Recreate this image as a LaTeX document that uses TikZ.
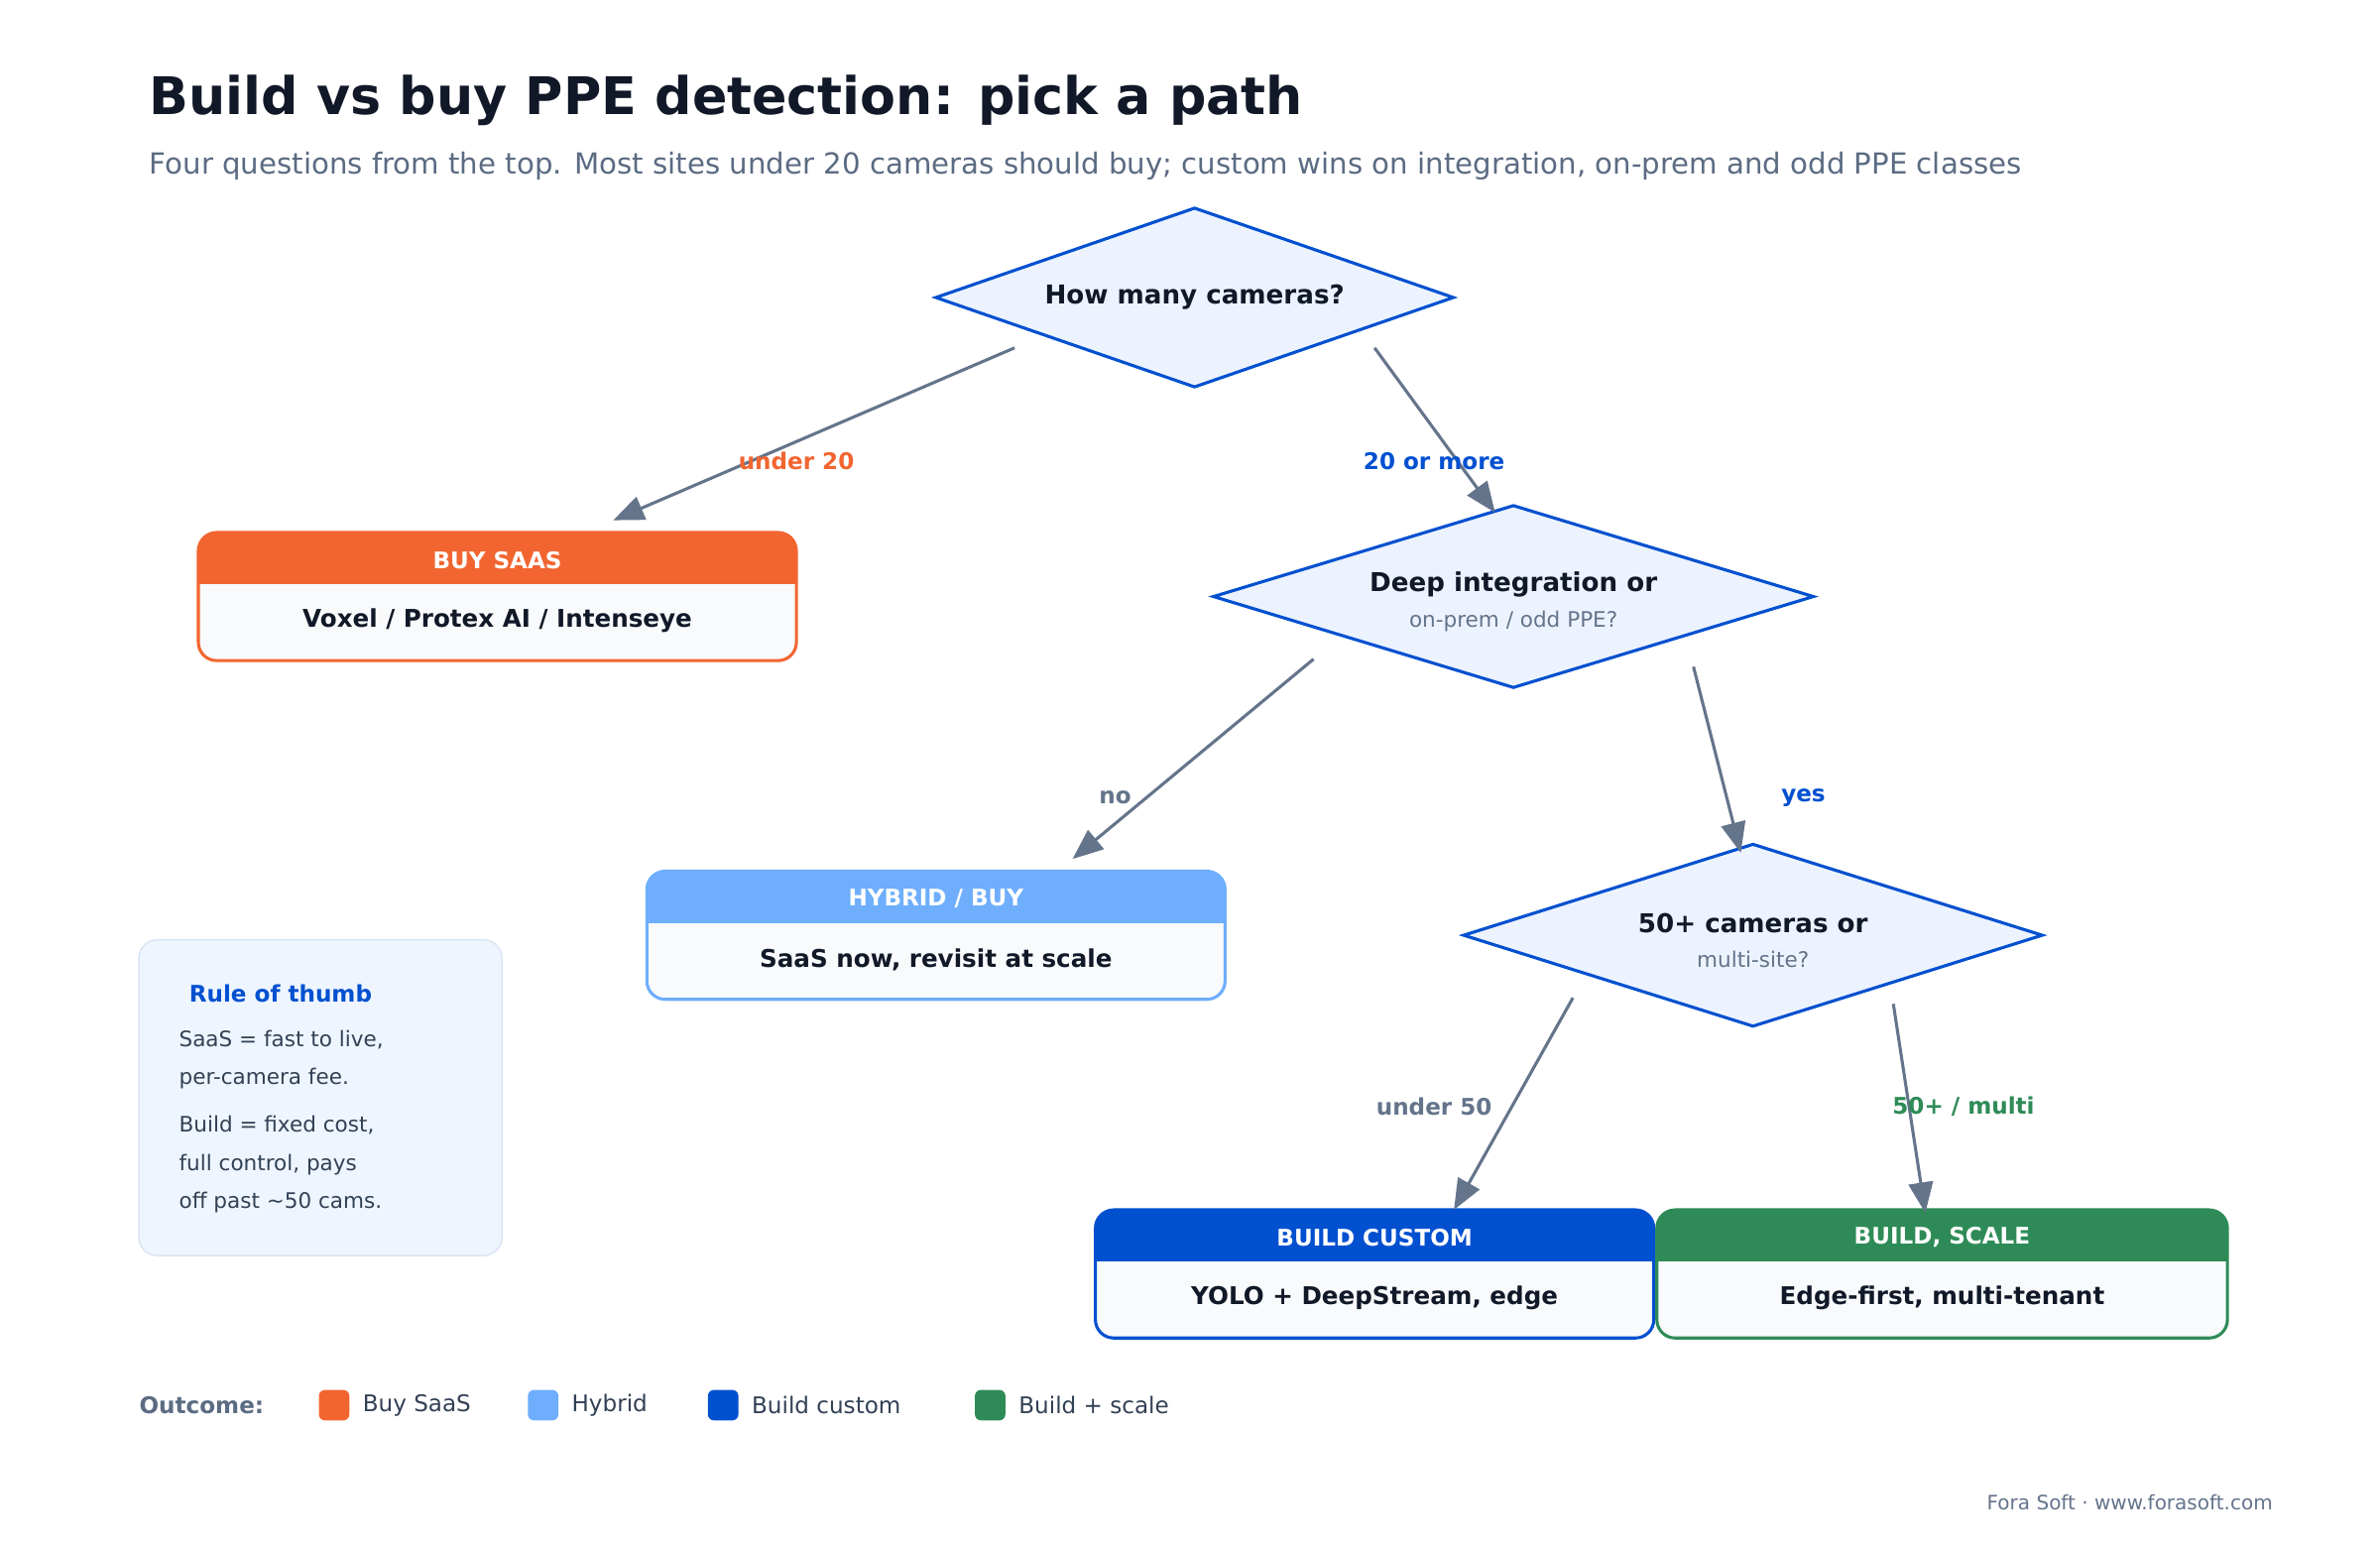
\documentclass[tikz,border=0pt]{standalone}
\usepackage{fontspec}
\setmainfont{DejaVu Sans}
\usetikzlibrary{positioning, shapes.geometric, arrows.meta}

\definecolor{ink}{HTML}{111827}
\definecolor{subgray}{HTML}{5B6B82}
\definecolor{edgegray}{HTML}{64748B}
\definecolor{qblue}{HTML}{0050D0}
\definecolor{qfill}{HTML}{ECF3FE}
\definecolor{saasorange}{HTML}{F26531}
\definecolor{hybridblue}{HTML}{6EAEFC}
\definecolor{scalegreen}{HTML}{2E8B57}
\definecolor{bodyfill}{HTML}{F8FAFC}
\definecolor{rulefill}{HTML}{EEF5FE}
\definecolor{ruleedge}{HTML}{D6E2F2}
\definecolor{textdark}{HTML}{334155}

\tikzset{
  question/.style={diamond, draw=qblue, fill=qfill, line width=1pt, inner sep=0pt, align=center},
  flow/.style={draw=edgegray, line width=1pt, -{Triangle[length=10pt, width=8pt]}},
  edgelabel/.style={font=\bfseries\fontsize{7.5}{9}\selectfont},
  legendbox/.style={rounded corners=2pt, minimum size=10pt, inner sep=0pt},
}

% outcome box: name, left, top, right, colour, title, body
\newcommand{\outcomebox}[7]{
  \begin{scope}
    \clip[rounded corners=6pt] (#2,#3) rectangle (#4,#3+84);
    \fill[bodyfill] (#2,#3) rectangle (#4,#3+84);
    \fill[#5] (#2,#3) rectangle (#4,#3+34);
  \end{scope}
  \draw[#5, line width=1pt, rounded corners=6pt] (#2,#3) rectangle (#4,#3+84);
  \node[text=white, font=\bfseries\fontsize{7.5}{9}\selectfont] at ({(#2+#4)/2},#3+18) {#6};
  \node[text=ink, font=\bfseries\fontsize{8}{10}\selectfont] (#1) at ({(#2+#4)/2},#3+58) {#7};
}

\begin{document}
\begin{tikzpicture}[x=0.5pt, y=-0.5pt]
\useasboundingbox[fill=white] (0,0) rectangle (1560,1014);

%%% Title
\node[anchor=base west, text=ink, font=\bfseries\fontsize{17}{20}\selectfont] (title) at (91,75) {Build vs buy PPE detection: pick a path};
\node[anchor=base west, text=subgray, font=\fontsize{9.5}{12}\selectfont] (subtitle) at (91,114) {Four questions from the top. Most sites under 20 cameras should buy; custom wins on integration, on-prem and odd PPE classes};

%%% Questions
\node[question, minimum width=170pt, minimum height=59pt] (cams) at (783,195) {};
\node[text=ink, font=\bfseries\fontsize{8.5}{10}\selectfont] at (783,195) {How many cameras?};
\node[question, minimum width=197pt, minimum height=60pt] (deep) at (992,391) {};
\node[text=ink, font=\bfseries\fontsize{8.5}{10}\selectfont] at (992,383) {Deep integration or};
\node[text=edgegray, font=\fontsize{7}{9}\selectfont] at (992,407) {on-prem / odd PPE?};
\node[question, minimum width=190pt, minimum height=60pt] (multi) at (1149,613) {};
\node[text=ink, font=\bfseries\fontsize{8.5}{10}\selectfont] at (1149,605) {50+ cameras or};
\node[text=edgegray, font=\fontsize{7}{9}\selectfont] at (1149,629) {multi-site?};

%%% Outcomes
\outcomebox{saas}{130}{349}{522}{saasorange}{BUY SAAS}{Voxel / Protex AI / Intenseye}
\outcomebox{hybrid}{424}{571}{803}{hybridblue}{HYBRID / BUY}{SaaS now, revisit at scale}
\outcomebox{custom}{718}{793}{1084}{qblue}{BUILD CUSTOM}{YOLO + DeepStream, edge}
\outcomebox{scale}{1086}{793}{1460}{scalegreen}{BUILD, SCALE}{Edge-first, multi-tenant}

%%% Connectors
\coordinate (c1s) at (665,228); \coordinate (c1e) at (402,341);
\coordinate (c2s) at (901,228); \coordinate (c2e) at (980,336);
\coordinate (c3s) at (861,432); \coordinate (c3e) at (703,563);
\coordinate (c4s) at (1110,437); \coordinate (c4e) at (1141,559);
\coordinate (c5s) at (1031,654); \coordinate (c5e) at (953,793);
\coordinate (c6s) at (1241,658); \coordinate (c6e) at (1262,795);
\draw[flow] (c1s) -- (c1e);
\draw[flow] (c2s) -- (c2e);
\draw[flow] (c3s) -- (c3e);
\draw[flow] (c4s) -- (c4e);
\draw[flow] (c5s) -- (c5e);
\draw[flow] (c6s) -- (c6e);
\node[edgelabel, text=saasorange] (l1) at (522,302) {under 20};
\node[edgelabel, text=qblue] (l2) at (940,302) {20 or more};
\node[edgelabel, text=edgegray] (l3) at (731,523) {no};
\node[edgelabel, text=qblue] (l4) at (1182,523) {yes};
\node[edgelabel, text=edgegray] (l5) at (940,725) {under 50};
\node[edgelabel, text=scalegreen] (l6) at (1287,725) {50+ / multi};

%%% Rule of thumb
\draw[ruleedge, fill=rulefill, rounded corners=6pt] (91,616) rectangle (329,823);
\node[anchor=base west, text=qblue, font=\bfseries\fontsize{7.5}{9}\selectfont] (rule) at (117,657) {Rule of thumb};
\node[anchor=north west, text=textdark, font=\fontsize{7}{12.5}\selectfont, align=left, inner sep=0pt] (rule1) at (117,675) {SaaS = fast to live,\\per-camera fee.};
\node[anchor=north west, text=textdark, font=\fontsize{7}{12.5}\selectfont, align=left, inner sep=0pt] (rule2) at (117,731) {Build = fixed cost,\\full control, pays\\off past \textasciitilde50 cams.};

%%% Legend
\node[anchor=west, text=subgray, font=\bfseries\fontsize{7.5}{9}\selectfont, inner sep=0pt] (outcome) at (91,921) {Outcome:};
\node[legendbox, fill=saasorange] (k1) at (219,921) {};
\node[anchor=west, right=4pt of k1, text=textdark, font=\fontsize{7.5}{9}\selectfont, inner sep=0pt] {Buy SaaS};
\node[legendbox, fill=hybridblue] (k2) at (356,921) {};
\node[anchor=west, right=4pt of k2, text=textdark, font=\fontsize{7.5}{9}\selectfont, inner sep=0pt] {Hybrid};
\node[legendbox, fill=qblue] (k3) at (474,921) {};
\node[anchor=west, right=4pt of k3, text=textdark, font=\fontsize{7.5}{9}\selectfont, inner sep=0pt] {Build custom};
\node[legendbox, fill=scalegreen] (k4) at (649,921) {};
\node[anchor=west, right=4pt of k4, text=textdark, font=\fontsize{7.5}{9}\selectfont, inner sep=0pt] {Build + scale};

%%% Footer
\node[anchor=east, text=edgegray, font=\fontsize{6.5}{8}\selectfont, inner sep=0pt] (footer) at (1490,985) {Fora Soft · www.forasoft.com};

\end{tikzpicture}
\end{document}
